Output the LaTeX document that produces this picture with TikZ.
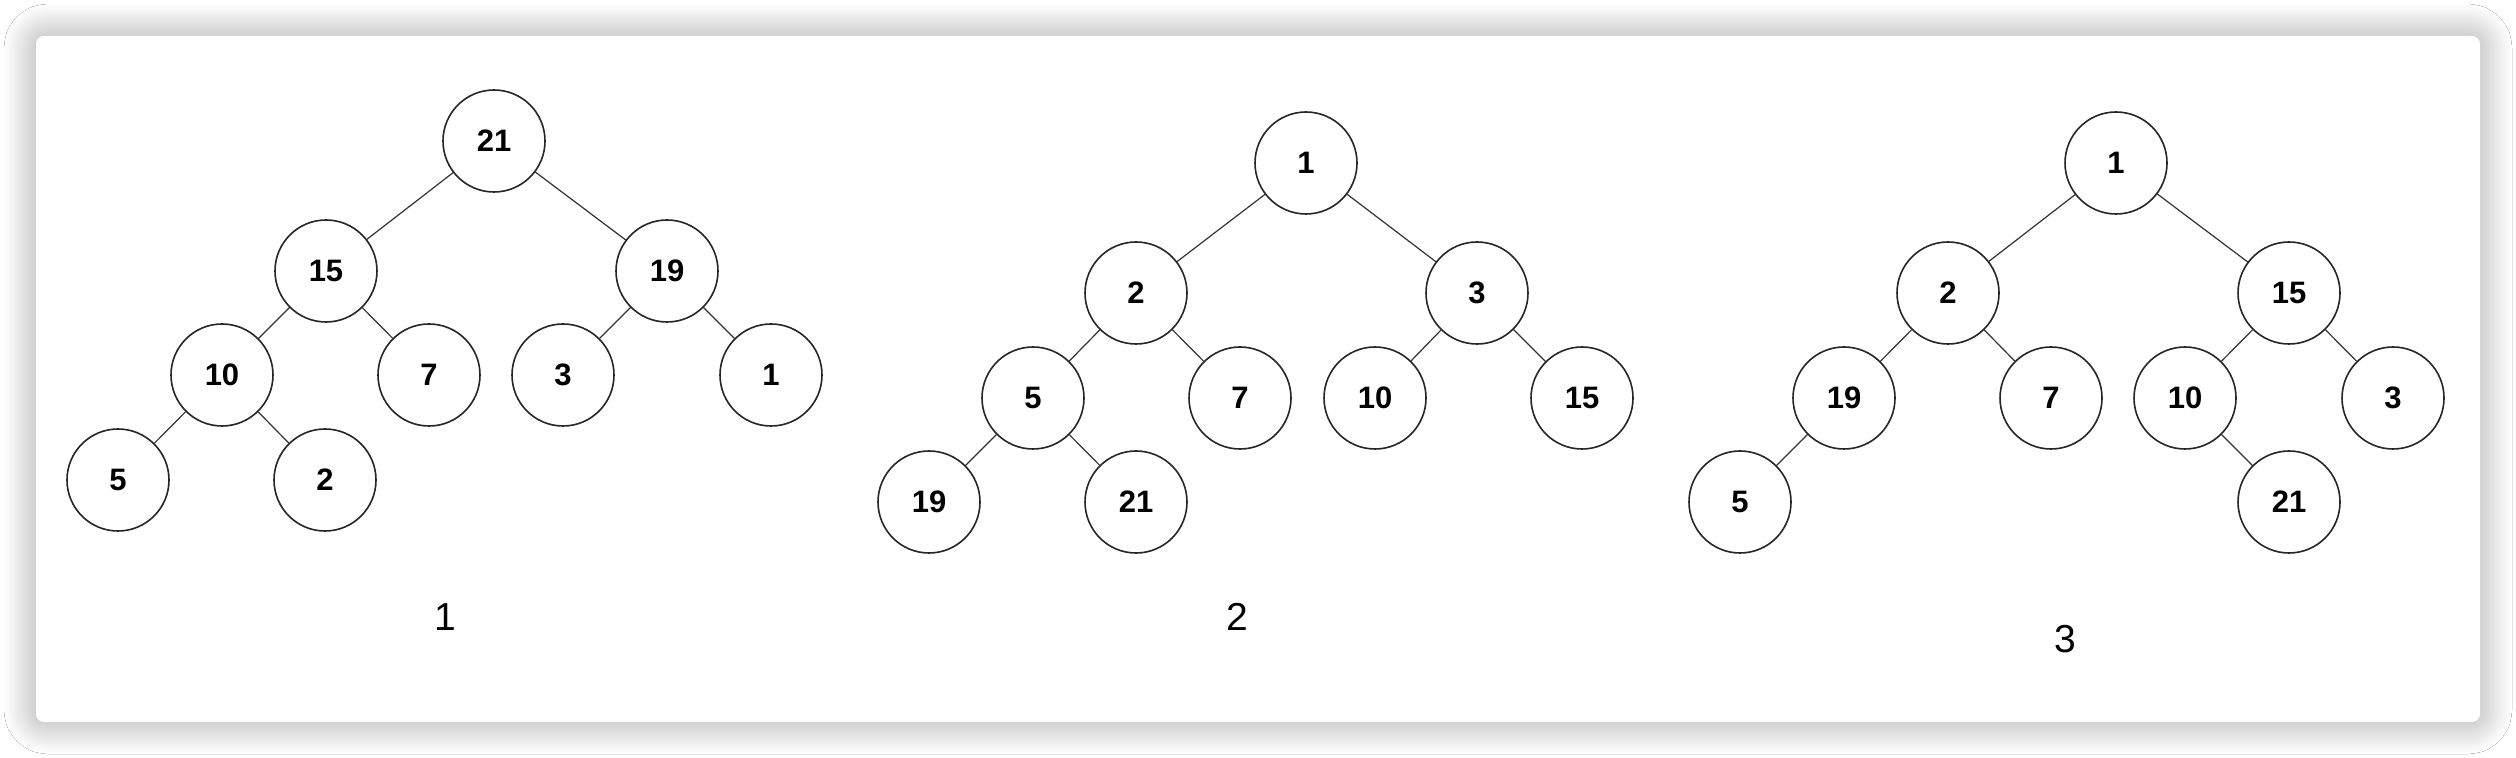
\documentclass[tikz,border=0pt]{standalone}
\usepackage{fontspec}
\setmainfont{Liberation Sans}
\usetikzlibrary{shadows.blur}
\tikzset{
  heapnode/.style={circle,draw=black!85,line width=0.8pt,fill=white,minimum size=51pt,inner sep=0pt,
    font=\fontsize{15.5}{18}\selectfont\bfseries},
  heapedge/.style={draw=black!80,line width=0.6pt},
  treelabel/.style={font=\fontsize{19.5}{22}\selectfont}
}
\begin{document}
\begin{tikzpicture}[x=0.5pt,y=-0.5pt,line join=round,line cap=round]
% page and card
\fill[white] (0,0) rectangle (2516,758);
\useasboundingbox (0,0) rectangle (2516,758);
\fill[white,rounded corners=4pt,blur shadow={shadow xshift=0pt,shadow yshift=0pt,shadow blur radius=16pt,
  shadow blur extra rounding=6pt,shadow opacity=38,shadow blur steps=20}]
  (36,36) rectangle (2480,722);
% heap 1
\node[heapnode] (a21) at (494,141) {21};
\node[heapnode] (a15) at (326,271) {15};
\node[heapnode] (a19) at (667,271) {19};
\node[heapnode] (a10) at (222,375) {10};
\node[heapnode] (a7)  at (429,375) {7};
\node[heapnode] (a3)  at (563,375) {3};
\node[heapnode] (a1)  at (771,375) {1};
\node[heapnode] (a5)  at (118,480) {5};
\node[heapnode] (a2)  at (325,480) {2};
\draw[heapedge] (a21)--(a15) (a21)--(a19) (a15)--(a10) (a15)--(a7)
  (a19)--(a3) (a19)--(a1) (a10)--(a5) (a10)--(a2);
\node[treelabel] (lab1) at (445,617) {1};
% heap 2
\node[heapnode] (b1)  at (1306,163) {1};
\node[heapnode] (b2)  at (1136,293) {2};
\node[heapnode] (b3)  at (1477,293) {3};
\node[heapnode] (b5)  at (1033,398) {5};
\node[heapnode] (b7)  at (1240,398) {7};
\node[heapnode] (b10) at (1375,398) {10};
\node[heapnode] (b15) at (1582,398) {15};
\node[heapnode] (b19) at (929,502) {19};
\node[heapnode] (b21) at (1136,502) {21};
\draw[heapedge] (b1)--(b2) (b1)--(b3) (b2)--(b5) (b2)--(b7)
  (b3)--(b10) (b3)--(b15) (b5)--(b19) (b5)--(b21);
\node[treelabel] (lab2) at (1237,617) {2};
% heap 3
\node[heapnode] (c1)  at (2116,163) {1};
\node[heapnode] (c2)  at (1948,293) {2};
\node[heapnode] (c15) at (2289,293) {15};
\node[heapnode] (c19) at (1844,398) {19};
\node[heapnode] (c7)  at (2051,398) {7};
\node[heapnode] (c10) at (2185,398) {10};
\node[heapnode] (c3)  at (2393,398) {3};
\node[heapnode] (c5)  at (1740,502) {5};
\node[heapnode] (c21) at (2289,502) {21};
\draw[heapedge] (c1)--(c2) (c1)--(c15) (c2)--(c19) (c2)--(c7)
  (c15)--(c10) (c15)--(c3) (c19)--(c5) (c10)--(c21);
\node[treelabel] (lab3) at (2065,639) {3};
\end{tikzpicture}
\end{document}
